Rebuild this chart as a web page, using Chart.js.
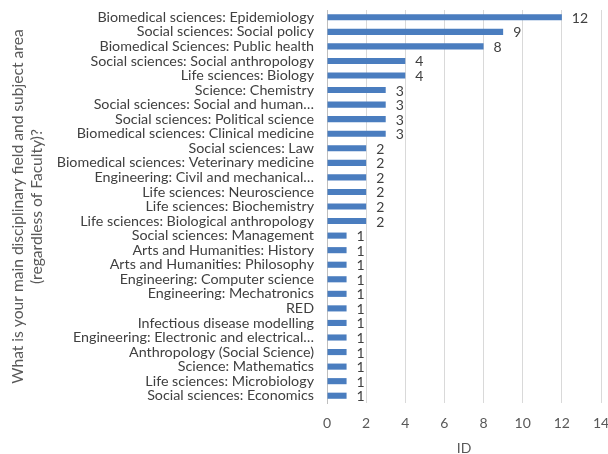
<!DOCTYPE html>
<html><head><meta charset="utf-8">
<script src="https://cdn.jsdelivr.net/npm/chart.js@4/dist/chart.umd.min.js"></script>
<style>html,body{margin:0;padding:0;background:#fff}#wrap{width:608px;height:454px}</style>
</head><body><div id="wrap"><canvas id="c" width="608" height="454"></canvas></div>
<script>
const categories = [
 "Biomedical sciences: Epidemiology",
 "Social sciences: Social policy",
 "Biomedical Sciences: Public health",
 "Social sciences: Social anthropology",
 "Life sciences: Biology",
 "Science: Chemistry",
 "Social sciences: Social and human…",
 "Social sciences: Political science",
 "Biomedical sciences: Clinical medicine",
 "Social sciences: Law",
 "Biomedical sciences: Veterinary medicine",
 "Engineering: Civil and mechanical…",
 "Life sciences: Neuroscience",
 "Life sciences: Biochemistry",
 "Life sciences: Biological anthropology",
 "Social sciences: Management",
 "Arts and Humanities: History",
 "Arts and Humanities: Philosophy",
 "Engineering: Computer science",
 "Engineering: Mechatronics",
 "RED",
 "Infectious disease modelling",
 "Engineering: Electronic and electrical…",
 "Anthropology (Social Science)",
 "Science: Mathematics",
 "Life sciences: Microbiology",
 "Social sciences: Economics"
];
const values = [12,9,8,4,4,3,3,3,3,2,2,2,2,2,2,1,1,1,1,1,1,1,1,1,1,1,1];
const xTicks = [0,2,4,6,8,10,12,14];
const yTitle = ["What is your main disciplinary field and subject area","(regardless of Faculty)?"];
const xTitle = "ID";

const FONT = "Lato, 'Open Sans', sans-serif";
const labelPlugin = {
  id:'vals',
  afterDatasetsDraw(chart){
    const ctx = chart.ctx;
    const meta = chart.getDatasetMeta(0);
    ctx.save();
    ctx.font = "14px " + FONT;
    ctx.fillStyle = '#404040';
    ctx.textAlign = 'left';
    ctx.textBaseline = 'middle';
    meta.data.forEach((bar,i)=>{
      ctx.fillText(String(values[i]), bar.x + 10, bar.y + 1);
    });
    ctx.restore();
  }
};

new Chart(document.getElementById('c'), {
  type:'bar',
  data:{labels:categories, datasets:[{data:values, backgroundColor:'#4a7dbf', borderWidth:0, categoryPercentage:1, barPercentage:0.42}]},
  options:{
    indexAxis:'y', responsive:false, animation:false,
    layout:{padding:{top:10,right:7,left:0,bottom:0}},
    plugins:{legend:{display:false}, tooltip:{enabled:false}},
    scales:{
      x:{min:0,max:14,
        afterBuildTicks(s){ s.ticks = xTicks.map(v=>({value:v})); },
        afterFit(s){ s.height = 51; s.paddingLeft = 0; s.paddingRight = 0; },
        grid:{color:'#d9d9d9', drawTicks:false, lineWidth:1},
        border:{display:false},
        ticks:{font:{family:FONT,size:14}, color:'#595959', padding:12},
        title:{display:true,text:xTitle,font:{family:FONT,size:14},color:'#595959',padding:{top:7,bottom:-3}}
      },
      y:{
        afterFit(s){ s.width = 327; s.paddingTop = 0; s.paddingBottom = 0; },
        grid:{display:false, drawTicks:false},
        border:{display:true,color:'#bfbfbf'},
        ticks:{font:{family:FONT,size:14.3},color:'#404040',padding:13, autoSkip:false},
        title:{display:true,text:yTitle,font:{family:FONT,size:15.6},color:'#595959',padding:{top:9,bottom:0}}
      }
    }
  },
  plugins:[labelPlugin]
});
</script></body></html>
